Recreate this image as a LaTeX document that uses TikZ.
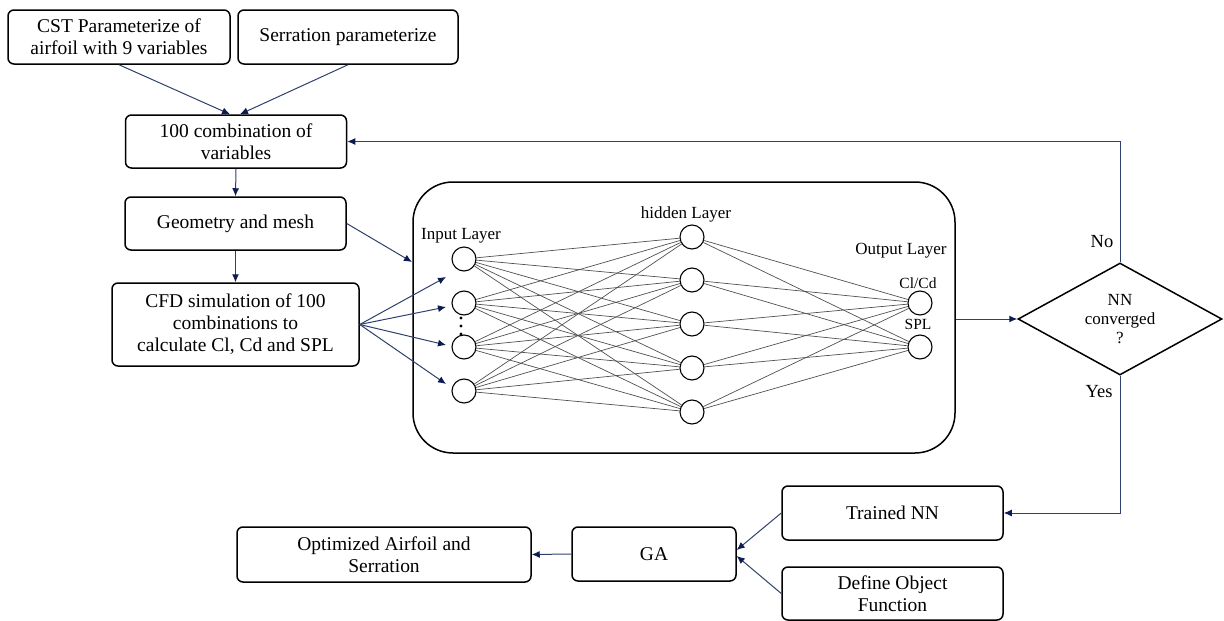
\documentclass[tikz,border=0pt]{standalone}
\usepackage{fontspec}
\setmainfont{Liberation Serif}
\usetikzlibrary{shapes.geometric,arrows.meta}
\definecolor{connc}{RGB}{48,64,108}
\definecolor{tipc}{RGB}{12,28,82}
\definecolor{nnline}{RGB}{80,80,80}
\tikzset{
  box/.style={draw, line width=1.5pt, rounded corners=6pt, align=center, inner sep=0pt,
    font=\fontsize{19.5}{22}\selectfont},
  neuron/.style={draw, circle, line width=1.1pt, minimum size=24pt, inner sep=0pt},
  nnlab/.style={font=\fontsize{17}{19}\selectfont, inner sep=0pt},
  outlab/.style={font=\fontsize{15.5}{17}\selectfont, inner sep=0pt},
  conn/.style={draw=connc, line width=1pt, -{Latex[length=8pt,width=7pt,color=tipc]}},
  syn/.style={draw=nnline, line width=0.7pt}
}
\begin{document}
\begin{tikzpicture}[x=1pt,y=-1pt]
\useasboundingbox (0,0) rectangle (1224,621);
% flow boxes
\node[box, minimum width=222pt, minimum height=54pt] (cst) at (119,37) {CST Parameterize of\\airfoil with 9 variables};
\node[box, minimum width=220pt, minimum height=54pt] (ser) at (348,37) {Serration parameterize};
\node[box, minimum width=221pt, minimum height=53pt] (comb) at (236,141.5) {100 combination of\\variables};
\node[box, minimum width=221pt, minimum height=53pt] (geo) at (235.5,223.5) {Geometry and mesh};
\node[box, minimum width=247pt, minimum height=83pt] (cfd) at (235.5,324.5) {CFD simulation of 100\\combinations to\\calculate Cl, Cd and SPL};
\node[draw, line width=1.5pt, rounded corners=40pt, minimum width=542pt, minimum height=271pt, inner sep=0pt] (nn) at (684,317.5) {};
\node[draw, diamond, line width=1.5pt, minimum width=204pt, minimum height=112pt, inner sep=0pt, aspect=1.82, align=center,
  font=\fontsize{17}{19}\selectfont] (dec) at (1120,319) {NN\\converged\\?};
\node[box, minimum width=294pt, minimum height=55pt] (opt) at (384,554.5) {Optimized Airfoil and\\Serration};
\node[box, minimum width=164pt, minimum height=54pt] (ga) at (654,554) {GA};
\node[box, minimum width=221pt, minimum height=54pt] (tnn) at (892.5,513) {Trained NN};
\node[box, minimum width=221pt, minimum height=53pt] (dof) at (892.5,593.5) {Define Object\\Function};
% labels No / Yes
\node[font=\fontsize{18.5}{20}\selectfont, inner sep=0pt] (no) at (1102,242) {No};
\node[font=\fontsize{18.5}{20}\selectfont, inner sep=0pt] (yes) at (1099,392) {Yes};
% neurons
\foreach \i/\y in {1/259,2/303,3/347,4/391} \node[neuron] (in\i) at (464,\y) {};
\foreach \i/\y in {1/237,2/280,3/324,4/368,5/412} \node[neuron] (h\i) at (692,\y) {};
\foreach \i/\y in {1/303,2/347} \node[neuron] (o\i) at (920,\y) {};
\foreach \i in {1,...,4} \foreach \j in {1,...,5} \draw[syn] (in\i) -- (h\j);
\foreach \j in {1,...,5} \foreach \k in {1,2} \draw[syn] (h\j) -- (o\k);
\foreach \y in {318,326,334} \fill (461,\y) circle (1.6pt);
% NN labels
\node[nnlab] (lin) at (461,236) {Input Layer};
\node[nnlab] (lhid) at (686,214) {hidden Layer};
\node[nnlab] (lout) at (901,251) {Output Layer};
\node[outlab] (lcl) at (918,283) {Cl/Cd};
\node[outlab] (lspl) at (918,324) {SPL};
% free arrow ends
\coordinate (nnin) at (412,262);
\coordinate (a1) at (446,277);
\coordinate (a2) at (446,307);
\coordinate (a3) at (446,345);
\coordinate (a4) at (446,384);
% connectors
\draw[conn] (cst.south) -- ([xshift=-6pt]comb.north);
\draw[conn] (ser.south) -- ([xshift=4pt]comb.north);
\draw[conn] (comb.south) -- (geo.north);
\draw[conn] (geo.south) -- (cfd.north);
\draw[conn] (geo.east) -- (nnin);
\foreach \a in {a1,a2,a3,a4} \draw[conn] (cfd.east) -- (\a);
\draw[conn] (nn.east |- dec.west) -- (dec.west);
\draw[conn] (dec.north) |- (comb.east);
\draw[conn] (dec.south) |- (tnn.east);
\draw[conn] (tnn.west) -- ([yshift=4pt]ga.east);
\draw[conn] (dof.west) -- ([yshift=-2pt]ga.east);
\draw[conn] (ga.west) -- (opt.east);
\end{tikzpicture}
\end{document}
